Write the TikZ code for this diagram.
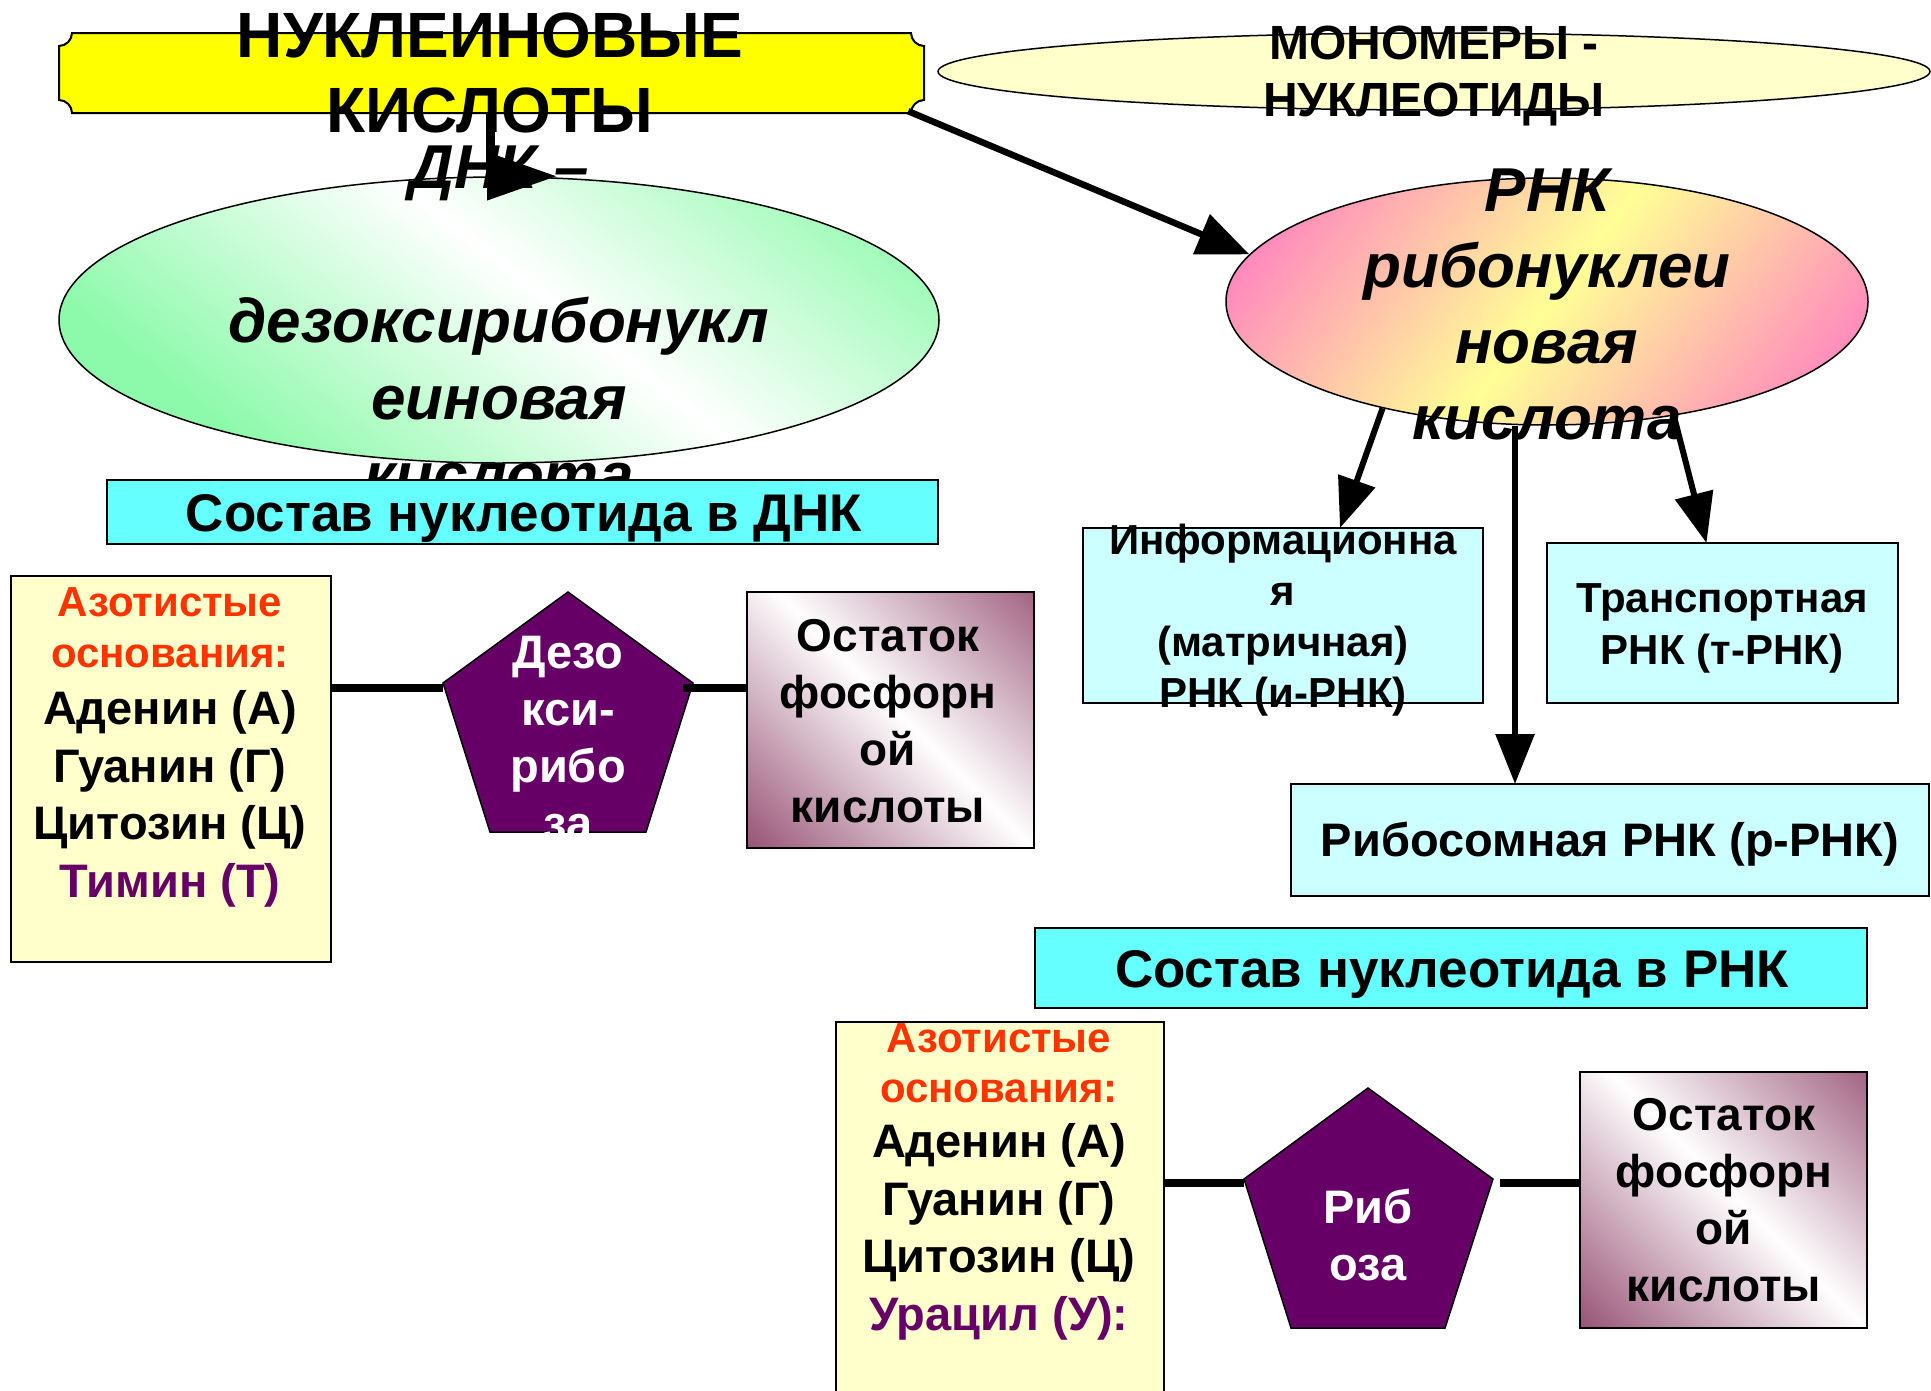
\documentclass[tikz,border=0pt]{standalone}
\usepackage{fontspec}
\setmainfont{Liberation Sans}
\usetikzlibrary{shapes.geometric,arrows.meta}
\definecolor{banyellow}{RGB}{255,255,0}
\definecolor{paleyellow}{RGB}{255,255,204}
\definecolor{dnagreen}{RGB}{140,250,170}
\definecolor{rnapink}{RGB}{255,136,190}
\definecolor{rnayellow}{RGB}{255,255,150}
\definecolor{titlecyan}{RGB}{102,255,255}
\definecolor{palecyan}{RGB}{204,255,255}
\definecolor{sugarpurple}{RGB}{102,0,102}
\definecolor{mauve}{RGB}{153,85,119}
\definecolor{basered}{RGB}{255,51,0}
\pgfdeclarehorizontalshading{dnash}{100bp}{color(0bp)=(dnagreen); color(37.5bp)=(dnagreen); color(50bp)=(white); color(62.5bp)=(dnagreen); color(100bp)=(dnagreen)}
\pgfdeclarehorizontalshading{rnash}{100bp}{color(0bp)=(rnapink); color(36.5bp)=(rnapink); color(50bp)=(rnayellow); color(63.5bp)=(rnapink); color(100bp)=(rnapink)}
\pgfdeclarehorizontalshading{phossh}{100bp}{color(0bp)=(mauve); color(33.3bp)=(mauve); color(50bp)=(white); color(66.7bp)=(mauve); color(100bp)=(mauve)}
\newcommand{\fsz}[2]{\fontsize{#1}{#2}\selectfont}
\begin{document}
\begin{tikzpicture}[x=1pt,y=-1pt,
  box/.style={draw=black, line width=2pt, inner sep=0pt, outer sep=0pt},
  txt/.style={inner sep=0pt, align=center},
  arr/.style={line width=6pt, -{Triangle[length=50pt,width=38pt]}},
  bond/.style={line width=8pt},
]
\useasboundingbox (0,0) rectangle (1931,1390);
\fill[white] (0,0) rectangle (1931,1390);

% banner (plaque)
\node[inner sep=0pt, minimum width=865pt, minimum height=80pt] (banner) at (491.5,73) {};
\draw[fill=banyellow, line width=2pt] (72,33) -- (911,33) .. controls (911,40) and (917,46) .. (924,46)
  -- (924,100) .. controls (917,100) and (911,106) .. (911,113)
  -- (72,113) .. controls (72,106) and (66,100) .. (59,100)
  -- (59,46) .. controls (66,46) and (72,40) .. (72,33) -- cycle;

% monomers ellipse
\node[ellipse, draw, line width=1.5pt, fill=paleyellow, inner sep=0pt, minimum width=992pt, minimum height=77pt] (mono) at (1434,71.5) {};
\node[txt, font=\bfseries\fsz{48}{57}] (monotext) at (1434,76) {МОНОМЕРЫ -\\НУКЛЕОТИДЫ};

% DNA ellipse
\begin{scope}
  \clip (499,320) ellipse [x radius=440pt, y radius=143pt];
  \shade[shading=dnash, shading angle=52] (-25,-280) rectangle (1175,920);
\end{scope}
\node[ellipse, draw, line width=1.5pt, inner sep=0pt, minimum width=880pt, minimum height=286pt] (dna) at (499,320) {};
\node[txt, font=\bfseries\itshape\fsz{62}{77}] (dnatext) at (499,321) {ДНК –\\\mbox{}\\дезоксирибонукл\\еиновая\\кислота};

% RNA ellipse
\begin{scope}
  \clip (1547,301.5) ellipse [x radius=321pt, y radius=123.5pt];
  \shade[shading=rnash, shading angle=-37.6] (1054,-203) rectangle (2054,797);
\end{scope}
\node[ellipse, draw, line width=1.5pt, inner sep=0pt, minimum width=642pt, minimum height=247pt] (rna) at (1547,301.5) {};
\node[txt, font=\bfseries\itshape\fsz{62}{76}] (rnatext) at (1547,304) {РНК\\рибонуклеи\\новая\\кислота};

% banner text
\node[txt, font=\bfseries\fsz{64}{75}] (bannertext) at (490,72.5) {НУКЛЕИНОВЫЕ\\КИСЛОТЫ};

% DNA composition
\node[box, fill=titlecyan, minimum width=831pt, minimum height=64pt] (titleA) at (522.5,512) {};
\node[txt, font=\bfseries\fsz{53}{60}] (titleAtext) at (524,518) {Состав нуклеотида в ДНК};

\node[box, fill=paleyellow, minimum width=320pt, minimum height=386pt] (basesA) at (171,769) {};
\node[txt, text=basered, font=\bfseries\fsz{42}{51}] (basesAhead) at (170,627.5) {Азотистые\\основания:};
\node[txt, font=\bfseries\fsz{47}{57.5}] (basesAlist) at (170,799) {Аденин (А)\\Гуанин (Г)\\Цитозин (Ц)\\\textcolor{sugarpurple}{Тимин (Т)}};

\coordinate (pAt) at (568,592);
\coordinate (pAr) at (693,683);
\coordinate (pAbr) at (646,832);
\coordinate (pAbl) at (490,832);
\coordinate (pAl) at (443,683);
\draw[fill=sugarpurple, line width=1.5pt] (pAt) -- (pAr) -- (pAbr) -- (pAbl) -- (pAl) -- cycle;
\node[txt, text=white, font=\bfseries\fsz{47}{57}] (pAtext) at (568,738) {Дезо\\кси-\\рибо\\за};

\begin{scope}
  \clip (747,592) rectangle (1034,848);
  \shade[shading=phossh, shading angle=45] (605,420) rectangle (1205,1020);
\end{scope}
\node[box, minimum width=287pt, minimum height=256pt] (phosA) at (890.5,720) {};
\node[txt, font=\bfseries\fsz{46}{57}] (phosAtext) at (888,721) {Остаток\\фосфорн\\ой\\кислоты};

\coordinate (bondAl) at ([yshift=-5pt]pAl);
\coordinate (bondAr) at ([xshift=-10pt,yshift=-5pt]pAr);
\draw[bond] (basesA.east |- bondAl) -- (bondAl);
\draw[bond] (bondAr) -- (phosA.west |- bondAr);

% RNA kinds
\node[box, fill=palecyan, minimum width=400pt, minimum height=175pt] (info) at (1283,615.5) {};
\node[txt, font=\bfseries\fsz{42}{51}] (infotext) at (1283,620) {Информационна\\я\\(матричная)\\РНК (и-РНК)};

\node[box, fill=palecyan, minimum width=351pt, minimum height=160pt] (trans) at (1722.5,623) {};
\node[txt, font=\bfseries\fsz{42}{52}] (transtext) at (1722,628) {Транспортная\\РНК (т-РНК)};

\node[box, fill=palecyan, minimum width=638pt, minimum height=112pt] (ribo) at (1610,840) {};
\node[txt, font=\bfseries\fsz{47}{56}] (ribotext) at (1610,844) {Рибосомная РНК (р-РНК)};

% RNA composition
\node[box, fill=titlecyan, minimum width=832pt, minimum height=80pt] (titleB) at (1451,968) {};
\node[txt, font=\bfseries\fsz{53}{60}] (titleBtext) at (1452,974) {Состав нуклеотида в РНК};

\node[box, fill=paleyellow, minimum width=328pt, minimum height=373pt] (basesB) at (1000,1208.5) {};
\node[txt, text=basered, font=\bfseries\fsz{42}{50}] (basesBhead) at (999,1063) {Азотистые\\основания:};
\node[txt, font=\bfseries\fsz{47}{57.5}] (basesBlist) at (999,1232) {Аденин (А)\\Гуанин (Г)\\Цитозин (Ц)\\\textcolor{sugarpurple}{Урацил (У):}};

\coordinate (pBt) at (1368,1088);
\coordinate (pBr) at (1493,1179);
\coordinate (pBbr) at (1445,1328);
\coordinate (pBbl) at (1291,1328);
\coordinate (pBl) at (1244,1179);
\draw[fill=sugarpurple, line width=1.5pt] (pBt) -- (pBr) -- (pBbr) -- (pBbl) -- (pBl) -- cycle;
\node[txt, text=white, font=\bfseries\fsz{47}{57}] (pBtext) at (1368,1234.5) {Риб\\оза};

\begin{scope}
  \clip (1580,1072) rectangle (1867,1328);
  \shade[shading=phossh, shading angle=45] (1438,900) rectangle (2038,1500);
\end{scope}
\node[box, minimum width=287pt, minimum height=256pt] (phosB) at (1723.5,1200) {};
\node[txt, font=\bfseries\fsz{46}{57}] (phosBtext) at (1724,1200) {Остаток\\фосфорн\\ой\\кислоты};

\coordinate (bondBl) at ([yshift=-4pt]pBl);
\coordinate (bondBr) at ([xshift=7pt,yshift=-4pt]pBr);
\draw[bond] (basesB.east |- bondBl) -- (bondBl);
\draw[bond] (bondBr) -- (phosB.west |- bondBr);

% arrows
\draw[line width=9pt, -{Triangle[length=70pt,width=46pt]}] ([xshift=-1.5pt]banner.south) |- ([xshift=58pt]dna.north);
\draw[line width=6.5pt, -{Triangle[length=52pt,width=42pt]}] ([xshift=-16pt,yshift=2pt]banner.south east) -- (rna.171);
\draw[arr] (rna.213) -- ([xshift=57pt]info.north);
\coordinate (ribotip) at ([xshift=-95pt]ribo.north);
\draw[arr] (ribotip |- rna.south) -- (ribotip);
\draw[arr] (rna.318) -- ([xshift=-16pt]trans.north);
\end{tikzpicture}
\end{document}
